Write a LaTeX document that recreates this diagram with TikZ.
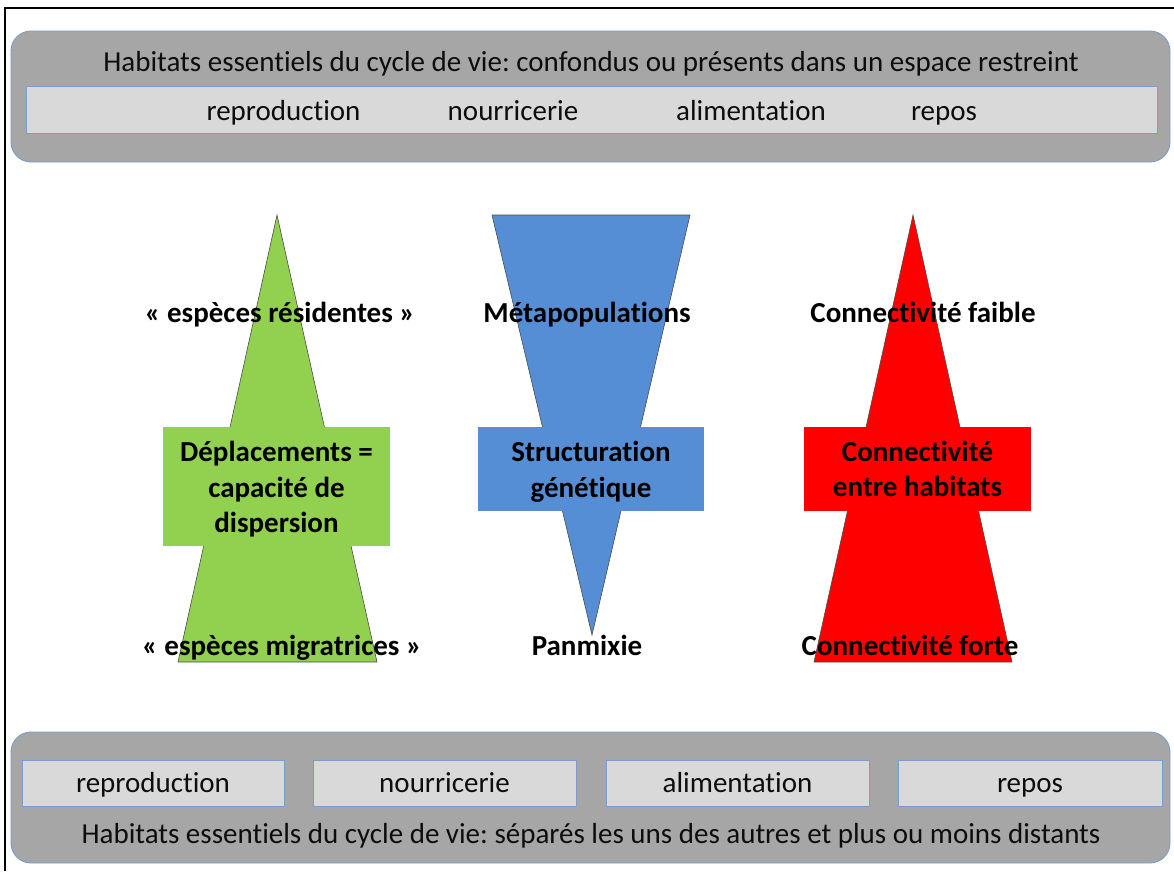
\documentclass[tikz,border=0pt]{standalone}
\usepackage{fontspec}
\setmainfont[Ligatures=NoCommon]{Carlito}
\frenchspacing
\definecolor{panelgray}{HTML}{A6A6A6}
\definecolor{barfill}{HTML}{D9D9D9}
\definecolor{edgeblue}{HTML}{7C9CCB}
\definecolor{tgreen}{HTML}{92D050}
\definecolor{tblue}{HTML}{558ED5}
\definecolor{tred}{HTML}{FF0000}
\definecolor{txtc}{HTML}{0D0D0D}
\begin{document}
\begin{tikzpicture}[x=1pt,y=-1pt,
  panel/.style={draw=edgeblue,fill=panelgray,rounded corners=20pt,line width=0.9pt},
  bar/.style={draw=edgeblue,fill=barfill,line width=0.9pt},
  reg/.style={inner sep=0pt,anchor=base,text=txtc,font=\fontsize{29}{34}\selectfont},
  bld/.style={inner sep=0pt,anchor=base,text=black,font=\fontsize{29}{35.5}\selectfont\bfseries},
  tri/.style={draw=black!70,line width=0.6pt},
  midbox/.style={inner sep=0pt,outer sep=0pt},
  midtxt/.style={inner sep=0pt,align=center,text=black,font=\fontsize{29}{35.5}\selectfont\bfseries}
]
\useasboundingbox (0,0) rectangle (1174,871);
\fill[white] (0,0) rectangle (1174,871);
% frame
\draw[line width=2pt] (5,871) -- (5,8) -- (1174,8);

% top panel
\draw[panel] (11,31) rectangle (1170,162);
\draw[bar] (26,86) rectangle (1157,133);
\node[reg] (ttitle) at (591,71) {Habitats essentiels du cycle de vie: confondus ou présents dans un espace restreint};
\node[reg] (trep) at (283.5,120) {reproduction};
\node[reg] (tnou) at (513,120) {nourricerie};
\node[reg] (tali) at (751,120) {alimentation};
\node[reg] (trepos) at (944,120) {repos};

% bottom panel
\draw[panel] (11,732) rectangle (1170,863);
\node[bar,minimum width=262pt,minimum height=46pt,inner sep=0pt] (brep) at (153,783) {};
\node[bar,minimum width=263pt,minimum height=46pt,inner sep=0pt] (bnou) at (444.5,783) {};
\node[bar,minimum width=263pt,minimum height=46pt,inner sep=0pt] (bali) at (737.5,783) {};
\node[bar,minimum width=264pt,minimum height=46pt,inner sep=0pt] (brepos) at (1030,783) {};
\node[reg] (lrep) at (153,792) {reproduction};
\node[reg] (lnou) at (444.5,792) {nourricerie};
\node[reg] (lali) at (737.5,792) {alimentation};
\node[reg] (lrepos) at (1030,792) {repos};
\node[reg] (btitle) at (591,843) {Habitats essentiels du cycle de vie: séparés les uns des autres et plus ou moins distants};

% triangles
\filldraw[tri,fill=tgreen] (277,215) -- (377,662) -- (178,662) -- cycle;
\filldraw[tri,fill=tblue] (492,215) -- (690,215) -- (592,635) -- cycle;
\filldraw[tri,fill=tred] (913,215) -- (1012,662) -- (814,662) -- cycle;

% middle boxes
\node[midbox,fill=tgreen,minimum width=227pt,minimum height=119pt] (gbox) at (276.5,486.5) {};
\node[midbox,fill=tblue,minimum width=226pt,minimum height=84pt] (bbox) at (591,469) {};
\node[midbox,fill=tred,minimum width=227pt,minimum height=84pt] (rbox) at (917.5,469) {};
\node[midtxt] (gtxt) at ([yshift=-3pt]gbox.center) {Déplacements =\\capacité de\\dispersion};
\node[midtxt] (btxt) at ([yshift=-3pt]bbox.center) {Structuration\\génétique};
\node[midtxt] (rtxt) at (rbox.center) {Connectivité\\entre habitats};

% labels
\node[bld] (gtop) at (280,322) {« espèces résidentes »};
\node[bld] (gbot) at (282,655) {« espèces migratrices »};
\node[bld] (btop) at (587,322) {Métapopulations};
\node[bld] (bbot) at (587,655) {Panmixie};
\node[bld] (rtop) at (923,322) {Connectivité faible};
\node[bld] (rbot) at (910,655) {Connectivité forte};
\end{tikzpicture}
\end{document}
